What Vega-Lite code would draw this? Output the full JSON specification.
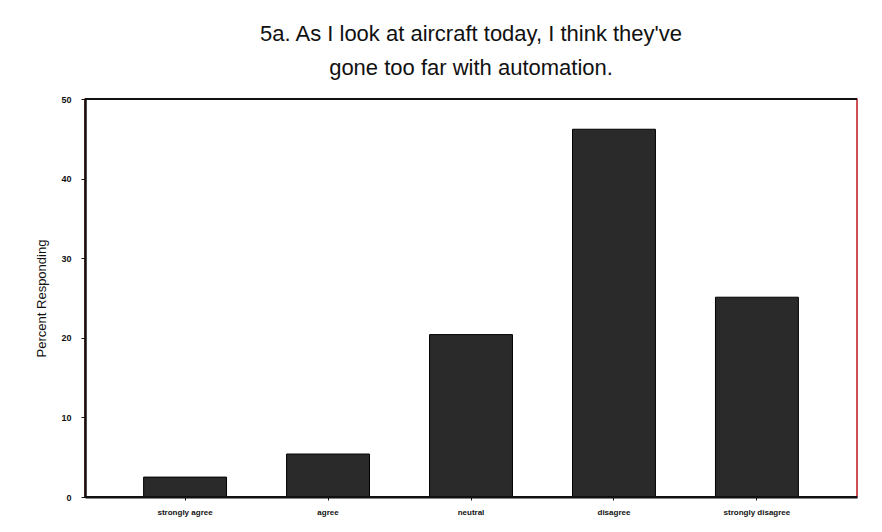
{
  "$schema": "https://vega.github.io/schema/vega-lite/v6.json",
  "width": 772,
  "height": 398,
  "autosize": {"type": "none"},
  "padding": {"left": 85, "top": 99, "right": 25, "bottom": 35},
  "background": "white",
  "title": {
    "text": ["5a. As I look at aircraft today, I think they've", "gone too far with automation."],
    "font": "Liberation Sans",
    "fontSize": 22,
    "fontWeight": "normal",
    "color": "#111",
    "lineHeight": 34,
    "anchor": "middle",
    "offset": 15
  },
  "config": {
    "view": {"stroke": "#c0181c", "strokeWidth": 1.5},
    "font": "Liberation Sans"
  },
  "data": {
    "values": [
      {"response": "strongly agree", "percent": 2.5},
      {"response": "agree", "percent": 5.4},
      {"response": "neutral", "percent": 20.4},
      {"response": "disagree", "percent": 46.2},
      {"response": "strongly disagree", "percent": 25.1}
    ]
  },
  "layer": [
    {
      "mark": {"type": "bar", "fill": "#2a2a2a", "stroke": "#000", "strokeWidth": 1},
      "encoding": {
        "x": {
          "field": "response",
          "type": "nominal",
          "sort": null,
          "scale": {"paddingInner": 0.42, "paddingOuter": 0.41},
          "axis": {
            "title": null,
            "zindex": 1,
            "labelAngle": 0,
            "labelFontSize": 8,
            "labelFontWeight": "bold",
            "labelColor": "#111",
            "labelPadding": 8,
            "tickSize": 3,
            "tickColor": "#111",
            "domainColor": "#111",
            "domainWidth": 2
          }
        },
        "y": {
          "field": "percent",
          "type": "quantitative",
          "scale": {"domain": [0, 50], "nice": false},
          "axis": {
            "title": "Percent Responding",
            "zindex": 1,
            "titleFont": "Liberation Sans",
            "titleFontSize": 13,
            "titleFontWeight": "normal",
            "titleColor": "#111",
            "titlePadding": 12,
            "values": [0, 10, 20, 30, 40, 50],
            "labelFontSize": 9,
            "labelFontWeight": "bold",
            "labelColor": "#111",
            "labelPadding": 10,
            "tickSize": 4,
            "tickColor": "#111",
            "domainColor": "#111",
            "domainWidth": 2.5,
            "grid": false
          }
        }
      }
    },
    {
      "data": {"values": [{"level": 0}, {"level": 50}]},
      "mark": {"type": "rule", "color": "#111", "strokeWidth": 2},
      "encoding": {"y": {"field": "level", "type": "quantitative"}}
    }
  ]
}
